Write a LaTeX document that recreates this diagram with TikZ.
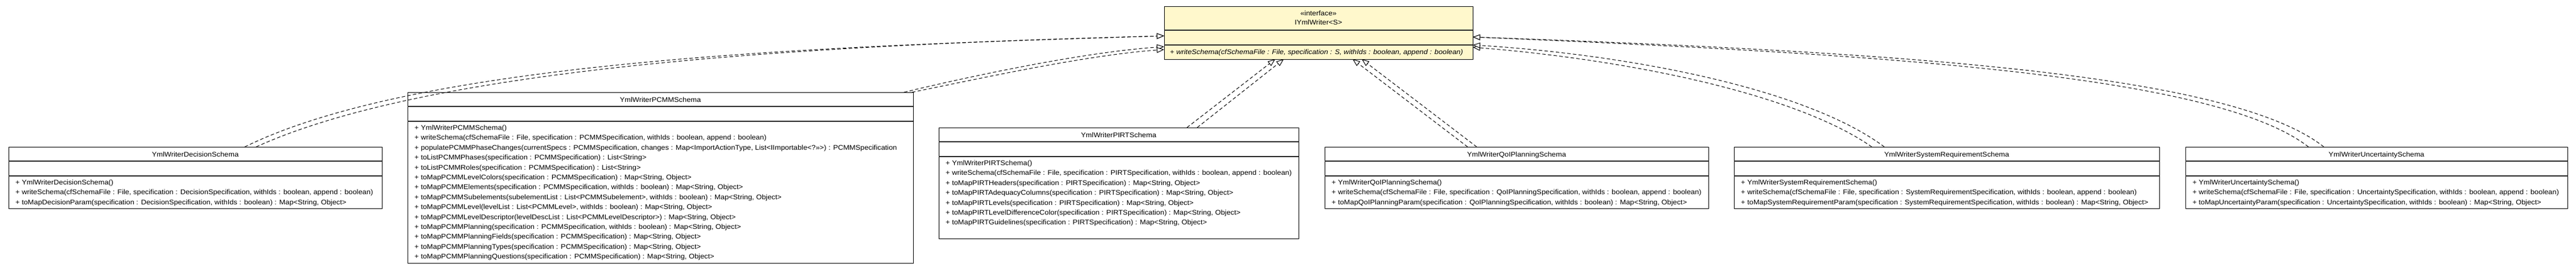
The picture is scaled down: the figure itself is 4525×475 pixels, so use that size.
\documentclass[tikz,border=0pt]{standalone}
\usepackage{fontspec}
\setmainfont{Liberation Sans}[FakeStretch=1.07]
\usetikzlibrary{arrows.meta,calc}
\definecolor{ifcyellow}{RGB}{255,248,204}
\tikzset{
  cls/.style={draw=black, line width=0.9pt, fill=white, inner sep=0pt, outer sep=0pt, rectangle},
  ifc/.style={cls, fill=ifcyellow},
  sepline/.style={draw=black!85, line width=1.3pt},
  txt/.style={inner sep=0pt, font=\fontsize{12}{14}\selectfont, anchor=base west},
  ttl/.style={inner sep=0pt, font=\fontsize{12}{14}\selectfont, anchor=base},
  real/.style={draw=black, line width=1pt, dash pattern=on 6pt off 4pt,
    -{Triangle[length=13pt,width=10pt,fill=white,line width=1pt]}},
}
\newcommand\umlcls[6]{%
  \pgfmathsetmacro\clsW{#3-#2}%
  \pgfmathsetmacro\clsH{51+17.4*#5+5.5}%
  \node[cls, minimum width=\clsW pt, minimum height=\clsH pt, anchor=north west] (#1) at (#2,#4) {};
  \draw[sepline] ($(#1.north west)+(0,25)$) -- ($(#1.north east)+(0,25)$);
  \draw[sepline] ($(#1.north west)+(0,51)$) -- ($(#1.north east)+(0,51)$);
  \node[ttl] (#1-title) at ($(#1.north)+(0,17)$) {#6};
}
\newcommand\mrow[3]{\node[txt] (#1-r#2) at ($(#1.north west)+(12,{66.5+17.4*(#2-1)})$) {#3};}
\begin{document}
\begin{tikzpicture}[x=1pt,y=-1pt]
\useasboundingbox (0,0) rectangle (4525,475);

% interface
\node[ifc, minimum width=542pt, minimum height=93pt, anchor=north west] (iface) at (2045,11) {};
\draw[sepline] ($(iface.north west)+(0,42)$) -- ($(iface.north east)+(0,42)$);
\draw[sepline] ($(iface.north west)+(0,68)$) -- ($(iface.north east)+(0,68)$);
\node[ttl] (iface-st) at ($(iface.north)+(0,16.5)$) {«interface»};
\node[ttl] (iface-nm) at ($(iface.north)+(0,32.5)$) {IYmlWriter<S>};
\node[txt] (iface-m1) at ($(iface.north west)+(10,84.5)$) {\itshape + writeSchema(cfSchemaFile : File, specification : S, withIds : boolean, append : boolean)};

% Decision
\umlcls{dec}{15}{671}{258}{3}{YmlWriterDecisionSchema}
\mrow{dec}{1}{+ YmlWriterDecisionSchema()}
\mrow{dec}{2}{+ writeSchema(cfSchemaFile : File, specification : DecisionSpecification, withIds : boolean, append : boolean)}
\mrow{dec}{3}{+ toMapDecisionParam(specification : DecisionSpecification, withIds : boolean) : Map<String, Object>}

% PCMM
\umlcls{pcmm}{716}{1604}{162}{14}{YmlWriterPCMMSchema}
\mrow{pcmm}{1}{+ YmlWriterPCMMSchema()}
\mrow{pcmm}{2}{+ writeSchema(cfSchemaFile : File, specification : PCMMSpecification, withIds : boolean, append : boolean)}
\mrow{pcmm}{3}{+ populatePCMMPhaseChanges(currentSpecs : PCMMSpecification, changes : Map<ImportActionType, List<IImportable<?>>>) : PCMMSpecification}
\mrow{pcmm}{4}{+ toListPCMMPhases(specification : PCMMSpecification) : List<String>}
\mrow{pcmm}{5}{+ toListPCMMRoles(specification : PCMMSpecification) : List<String>}
\mrow{pcmm}{6}{+ toMapPCMMLevelColors(specification : PCMMSpecification) : Map<String, Object>}
\mrow{pcmm}{7}{+ toMapPCMMElements(specification : PCMMSpecification, withIds : boolean) : Map<String, Object>}
\mrow{pcmm}{8}{+ toMapPCMMSubelements(subelementList : List<PCMMSubelement>, withIds : boolean) : Map<String, Object>}
\mrow{pcmm}{9}{+ toMapPCMMLevel(levelList : List<PCMMLevel>, withIds : boolean) : Map<String, Object>}
\mrow{pcmm}{10}{+ toMapPCMMLevelDescriptor(levelDescList : List<PCMMLevelDescriptor>) : Map<String, Object>}
\mrow{pcmm}{11}{+ toMapPCMMPlanning(specification : PCMMSpecification, withIds : boolean) : Map<String, Object>}
\mrow{pcmm}{12}{+ toMapPCMMPlanningFields(specification : PCMMSpecification) : Map<String, Object>}
\mrow{pcmm}{13}{+ toMapPCMMPlanningTypes(specification : PCMMSpecification) : Map<String, Object>}
\mrow{pcmm}{14}{+ toMapPCMMPlanningQuestions(specification : PCMMSpecification) : Map<String, Object>}

% PIRT
\umlcls{pirt}{1649}{2281}{224}{8}{YmlWriterPIRTSchema}
\mrow{pirt}{1}{+ YmlWriterPIRTSchema()}
\mrow{pirt}{2}{+ writeSchema(cfSchemaFile : File, specification : PIRTSpecification, withIds : boolean, append : boolean)}
\mrow{pirt}{3}{+ toMapPIRTHeaders(specification : PIRTSpecification) : Map<String, Object>}
\mrow{pirt}{4}{+ toMapPIRTAdequacyColumns(specification : PIRTSpecification) : Map<String, Object>}
\mrow{pirt}{5}{+ toMapPIRTLevels(specification : PIRTSpecification) : Map<String, Object>}
\mrow{pirt}{6}{+ toMapPIRTLevelDifferenceColor(specification : PIRTSpecification) : Map<String, Object>}
\mrow{pirt}{7}{+ toMapPIRTGuidelines(specification : PIRTSpecification) : Map<String, Object>}

% QoI Planning
\umlcls{qoi}{2327}{3001}{258}{3}{YmlWriterQoIPlanningSchema}
\mrow{qoi}{1}{+ YmlWriterQoIPlanningSchema()}
\mrow{qoi}{2}{+ writeSchema(cfSchemaFile : File, specification : QoIPlanningSpecification, withIds : boolean, append : boolean)}
\mrow{qoi}{3}{+ toMapQoIPlanningParam(specification : QoIPlanningSpecification, withIds : boolean) : Map<String, Object>}

% System requirement
\umlcls{sys}{3046}{3793}{258}{3}{YmlWriterSystemRequirementSchema}
\mrow{sys}{1}{+ YmlWriterSystemRequirementSchema()}
\mrow{sys}{2}{+ writeSchema(cfSchemaFile : File, specification : SystemRequirementSpecification, withIds : boolean, append : boolean)}
\mrow{sys}{3}{+ toMapSystemRequirementParam(specification : SystemRequirementSpecification, withIds : boolean) : Map<String, Object>}

% Uncertainty
\umlcls{unc}{3839}{4510}{258}{3}{YmlWriterUncertaintySchema}
\mrow{unc}{1}{+ YmlWriterUncertaintySchema()}
\mrow{unc}{2}{+ writeSchema(cfSchemaFile : File, specification : UncertaintySpecification, withIds : boolean, append : boolean)}
\mrow{unc}{3}{+ toMapUncertaintyParam(specification : UncertaintySpecification, withIds : boolean) : Map<String, Object>}

% realizations
\draw[real] ($(dec.north)+(87,0)$) .. controls (750,100) and (1500,80) .. ($(iface.west)+(0,5.5)$);
\draw[real] ($(dec.north)+(107,0)$) .. controls (775,110) and (1490,78) .. ($(iface.west)+(0,5.5)$);

\draw[real] ($(pcmm.north)+(428,0)$) .. controls (1700,135) and (1900,92) .. ($(iface.west)+(0,24.5)$);
\draw[real] ($(pcmm.north)+(442,0)$) .. controls (1712,140) and (1905,97) .. ($(iface.west)+(0,29.5)$);

\draw[real] ($(pirt.north)+(120,0)$) -- ($(iface.south)+(-76,0)$);
\draw[real] ($(pirt.north)+(138,0)$) -- ($(iface.south)+(-61,0)$);

\draw[real] ($(qoi.north)+(-86,0)$) -- ($(iface.south)+(60,0)$);
\draw[real] ($(qoi.north)+(-70,0)$) -- ($(iface.south)+(76,0)$);

\draw[real] ($(sys.north)+(-131.5,0)$) .. controls (3150,162) and (2850,104) .. ($(iface.east)+(0,25.5)$);
\draw[real] ($(sys.north)+(-109.5,0)$) .. controls (3172,155) and (2860,96) .. ($(iface.east)+(0,21.5)$);

\draw[real] ($(unc.north)+(-119.5,0)$) .. controls (3890,130) and (3300,95) .. ($(iface.east)+(0,7.5)$);
\draw[real] ($(unc.north)+(-92.5,0)$) .. controls (3915,126) and (3310,91) .. ($(iface.east)+(0,7.5)$);
\end{tikzpicture}
\end{document}
